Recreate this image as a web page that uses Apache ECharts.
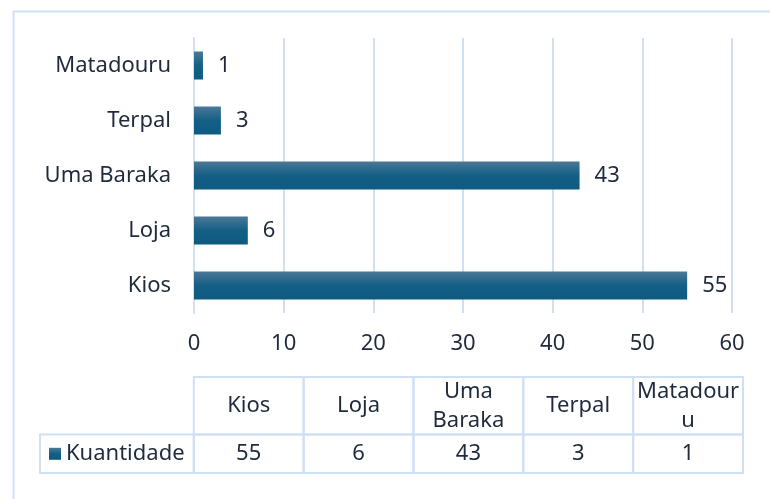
<!DOCTYPE html>
<html><head><meta charset="utf-8">
<script src="https://cdn.jsdelivr.net/npm/echarts@6/dist/echarts.min.js"></script>
<style>html,body{margin:0;padding:0;background:#fff}#c{width:770px;height:499px}</style>
</head><body><div id="c"></div>
<script>
const categories = ['Kios', 'Loja', 'Uma Baraka', 'Terpal', 'Matadouru'];
const values = [55, 6, 43, 3, 1];
const tableHeaders = ['Kios', 'Loja', 'Uma\nBaraka', 'Terpal', 'Matadour\nu'];
const seriesName = 'Kuantidade';
const xMin = 0, xMax = 60, xStep = 10;

const FONT = 'Noto Sans';
const FS = 22;
const TXT = '#1f2b3d';
const LINE = '#cfe0f4';
const barGrad = new echarts.graphic.LinearGradient(0, 0, 0, 1, [
  { offset: 0, color: '#4b7898' },
  { offset: 0.5, color: '#135f85' },
  { offset: 1, color: '#0f5a80' }
]);

// table cells data: [col, row, text]
const tableData = [];
tableHeaders.forEach((h, i) => tableData.push([i, 0, h]));
values.forEach((v, i) => tableData.push([i, 1, String(v)]));
tableData.push([-1, 1, seriesName]);

const chart = echarts.init(document.getElementById('c'), null, { renderer: 'canvas' });
chart.setOption({
  animation: false,
  backgroundColor: '#fff',
  graphic: [{
    type: 'rect', left: 11, top: 9, shape: { width: 820, height: 600 },
    style: { fill: 'none', stroke: LINE, lineWidth: 2 }, silent: true, z: -1
  }],
  grid: [
    { left: 194, right: 38, top: 38, bottom: 186 },
    { left: 40, right: 27, top: 377, height: 96 }
  ],
  xAxis: [
    {
      type: 'value', gridIndex: 0, min: xMin, max: xMax, interval: xStep,
      axisLine: { show: false }, axisTick: { show: false },
      splitLine: { show: true, lineStyle: { color: LINE, width: 2 } },
      axisLabel: { color: TXT, fontFamily: FONT, fontSize: FS, margin: 20 }
    },
    {
      type: 'value', gridIndex: 1, min: -1.4, max: 5,
      show: false, splitLine: { show: false }
    }
  ],
  yAxis: [
    {
      type: 'category', gridIndex: 0, data: categories,
      axisLine: { show: true, lineStyle: { color: LINE, width: 2 } },
      axisTick: { show: false },
      axisLabel: { color: TXT, fontFamily: FONT, fontSize: FS, margin: 23 }
    },
    {
      type: 'value', gridIndex: 1, min: 0, max: 2.5, inverse: true,
      show: false, splitLine: { show: false }
    }
  ],
  series: [
    {
      type: 'bar', name: seriesName, xAxisIndex: 0, yAxisIndex: 0,
      data: values, barWidth: 28,
      itemStyle: { color: barGrad },
      label: { show: true, position: 'right', distance: 15, color: TXT, fontFamily: FONT, fontSize: FS }
    },
    {
      type: 'custom', xAxisIndex: 1, yAxisIndex: 1, silent: true,
      data: tableData,
      renderItem: function (params, api) {
        const col = api.value(0), row = api.value(1);
        const text = tableData[params.dataIndex][2];
        const x0 = col < 0 ? -1.4 : col, x1 = col < 0 ? 0 : col + 1;
        const y0 = row === 0 ? 0 : 1.5, y1 = row === 0 ? 1.5 : 2.5;
        const p0 = api.coord([x0, y0]), p1 = api.coord([x1, y1]);
        const children = [{
          type: 'rect',
          shape: { x: p0[0], y: p0[1], width: p1[0] - p0[0], height: p1[1] - p0[1] },
          style: { fill: 'none', stroke: LINE, lineWidth: 2 }
        }];
        const cy = (p0[1] + p1[1]) / 2;
        if (col < 0) {
          children.push({
            type: 'rect',
            shape: { x: p0[0] + 9, y: cy - 6, width: 12, height: 12 },
            style: { fill: barGrad }
          });
          children.push({
            type: 'text',
            style: { text: text, x: p0[0] + 26, y: cy, align: 'left', verticalAlign: 'middle',
              fill: TXT, fontFamily: FONT, fontSize: FS }
          });
        } else {
          children.push({
            type: 'text',
            style: { text: text, x: (p0[0] + p1[0]) / 2, y: cy, align: 'center', verticalAlign: 'middle',
              fill: TXT, fontFamily: FONT, fontSize: FS, lineHeight: 29 }
          });
        }
        return { type: 'group', children: children };
      }
    }
  ]
});
</script></body></html>
